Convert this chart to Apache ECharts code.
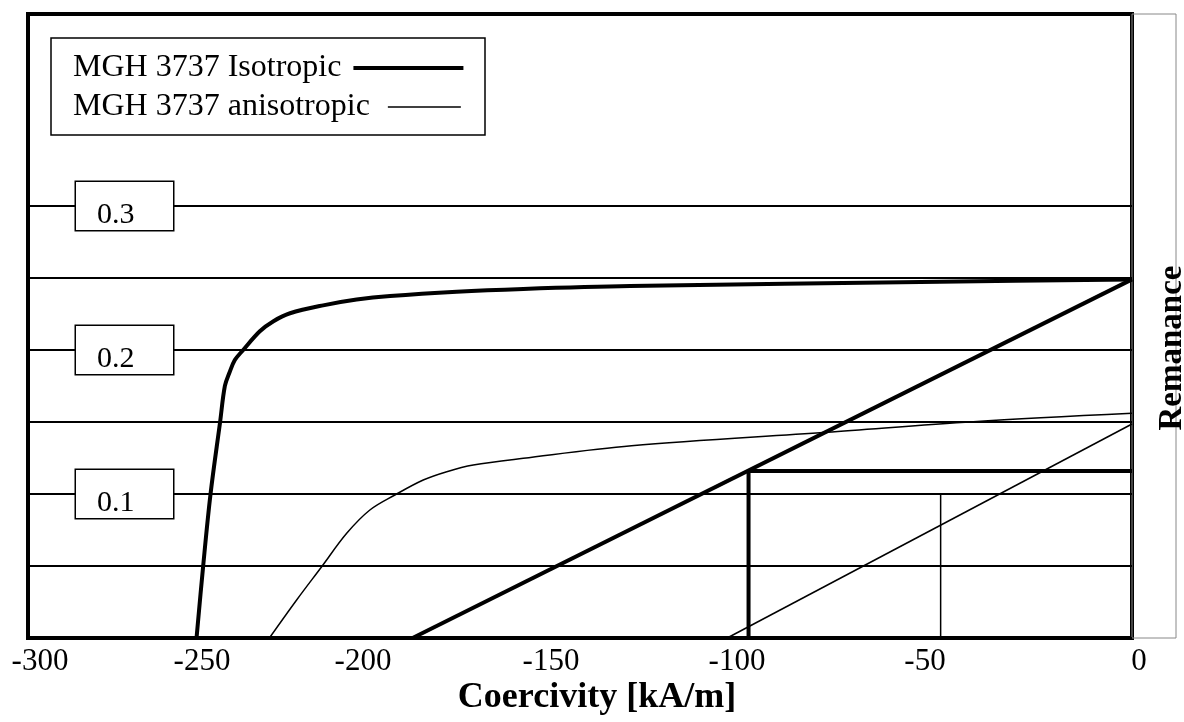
<!DOCTYPE html>
<html>
<head>
<meta charset="utf-8">
<script src="https://cdn.jsdelivr.net/npm/echarts@6/dist/echarts.min.js"></script>
<style>
html, body { margin: 0; padding: 0; background: #fff; }
#app { width: 1184px; height: 722px; }
</style>
</head>
<body>
<div id="app"></div>
<script>
const xTicks = [-300, -250, -200, -150, -100, -50, 0];
const yLabels = [0.1, 0.2, 0.3];

// MGH 3737 Isotropic
const isoCurve = [
  [-254.2, 0], [-252.4, 0.05], [-250.4, 0.1], [-247.8, 0.15], [-246.5, 0.175],
  [-245.3, 0.184], [-243.8, 0.193], [-241.7, 0.1995], [-237, 0.213], [-233.3, 0.22],
  [-228.8, 0.2255], [-219.8, 0.231], [-210.7, 0.235], [-201.6, 0.2375], [-183.5, 0.2405],
  [-165.4, 0.2424], [-136.4, 0.2444], [-52.2, 0.2474], [0, 0.249]
];
const isoLine = [[-195.5, 0], [0, 0.249]];
const isoStep = [[-104.2, 0], [-104.2, 0.116], [0, 0.116]];

// MGH 3737 anisotropic
const anisoCurve = [
  [-234.4, 0], [-227, 0.0264], [-220.2, 0.0495], [-213.4, 0.0727], [-207.1, 0.0889],
  [-200.3, 0.0993], [-192.6, 0.1097], [-186.2, 0.1155], [-179, 0.1201], [-165.4, 0.1248],
  [-136, 0.1335], [-83, 0.1428], [-43.1, 0.1502], [0, 0.156]
];
const anisoLine = [[-110, 0], [0, 0.1486]];
const anisoStep = [[-52, 0], [-52, 0.1]];

const ISO = 'MGH 3737 Isotropic';
const ANISO = 'MGH 3737 anisotropic';
const font = 'Liberation Serif';

// nudges so the tick labels sit where the original drawing put them
const xLabelShift = [12, -10, -33, -29, -27, -23, 7];
const xRich = {};
xLabelShift.forEach((s, i) => {
  xRich['s' + i] = {
    fontFamily: font,
    fontSize: 31,
    color: '#000',
    padding: s > 0 ? [0, 0, 0, 2 * s] : [0, -2 * s, 0, 0]
  };
});

const chart = echarts.init(document.getElementById('app'));

function lineSeries(name, data, width, smooth) {
  return {
    type: 'line',
    name,
    data,
    symbol: 'none',
    smooth: smooth ? 0.35 : false,
    itemStyle: { color: '#000' },
    lineStyle: { color: '#000', width }
  };
}

chart.setOption({
  animation: false,
  grid: {
    left: 28,
    right: 52,
    top: 14,
    bottom: 84,
    show: true,
    borderColor: '#000',
    borderWidth: 4,
    containLabel: false,
    outerBoundsMode: 'none'
  },
  graphic: [
    {
      type: 'rect',
      shape: { x: 51, y: 38, width: 434, height: 97 },
      style: { fill: '#fff', stroke: '#000', lineWidth: 1.5 }
    },
    {
      type: 'rect',
      shape: { x: 1132, y: 14, width: 44, height: 624 },
      style: { fill: 'none', stroke: '#888', lineWidth: 1 }
    }
  ],
  legend: [
    {
      data: [{ name: ISO, icon: 'rect' }],
      left: 73,
      top: 52,
      padding: 0,
      align: 'right',
      itemWidth: 110,
      itemHeight: 4,
      selectedMode: false,
      textStyle: { fontFamily: font, fontSize: 32, color: '#000', lineHeight: 32, padding: [0, 7, 0, 0] }
    },
    {
      data: [{ name: ANISO, icon: 'rect' }],
      left: 73,
      top: 91,
      padding: 0,
      align: 'right',
      itemWidth: 73,
      itemHeight: 1.5,
      selectedMode: false,
      textStyle: { fontFamily: font, fontSize: 32, color: '#000', lineHeight: 32, padding: [0, 13, 0, 0] }
    }
  ],
  xAxis: {
    type: 'value',
    min: -300,
    max: 0,
    interval: 50,
    axisLine: { show: false },
    axisTick: { show: false },
    splitLine: { show: false },
    axisLabel: {
      margin: 8,
      formatter(v) {
        return `{s${xTicks.indexOf(v)}|${v}}`;
      },
      rich: xRich
    },
    name: 'Coercivity [kA/m]',
    nameLocation: 'middle',
    nameGap: 42,
    nameMoveOverlap: false,
    nameTextStyle: {
      fontFamily: font,
      fontWeight: 'bold',
      fontSize: 36,
      color: '#000',
      padding: [0, 0, 0, 34]
    }
  },
  yAxis: [
    {
      type: 'value',
      min: 0,
      max: 0.4333,
      interval: 0.05,
      axisLine: { show: false },
      axisTick: { show: false },
      splitLine: {
        lineStyle: {
          width: 2,
          color: ['#000', '#000', '#000', '#000', '#000', '#000', '#000',
                  'rgba(0,0,0,0)', 'rgba(0,0,0,0)', 'rgba(0,0,0,0)']
        }
      },
      axisLabel: {
        customValues: yLabels,
        inside: true,
        margin: 48,
        formatter(v) {
          return `{b|${v}}`;
        },
        rich: {
          b: {
            fontFamily: font,
            fontSize: 30,
            color: '#000',
            backgroundColor: '#fff',
            borderColor: '#000',
            borderWidth: 1.5,
            padding: [18, 0, 0, 21],
            width: 76,
            lineHeight: 30,
            height: 30
          }
        }
      }
    },
    {
      type: 'value',
      position: 'right',
      min: 0,
      max: 0.4333,
      axisLine: { show: false },
      axisTick: { show: false },
      axisLabel: { show: false },
      splitLine: { show: false },
      name: 'Remanance',
      nameLocation: 'middle',
      nameRotate: 90,
      nameGap: 24,
      nameMoveOverlap: false,
      nameTextStyle: {
        fontFamily: font,
        fontWeight: 'bold',
        fontSize: 33,
        color: '#000',
        padding: [0, 44, 0, 0]
      }
    }
  ],
  series: [
    lineSeries(ISO, isoCurve, 4, true),
    lineSeries(ISO, isoLine, 4, false),
    lineSeries(ISO, isoStep, 4, false),
    lineSeries(ANISO, anisoCurve, 1.5, true),
    lineSeries(ANISO, anisoLine, 1.5, false),
    lineSeries(ANISO, anisoStep, 1.5, false)
  ]
});
</script>
</body>
</html>
